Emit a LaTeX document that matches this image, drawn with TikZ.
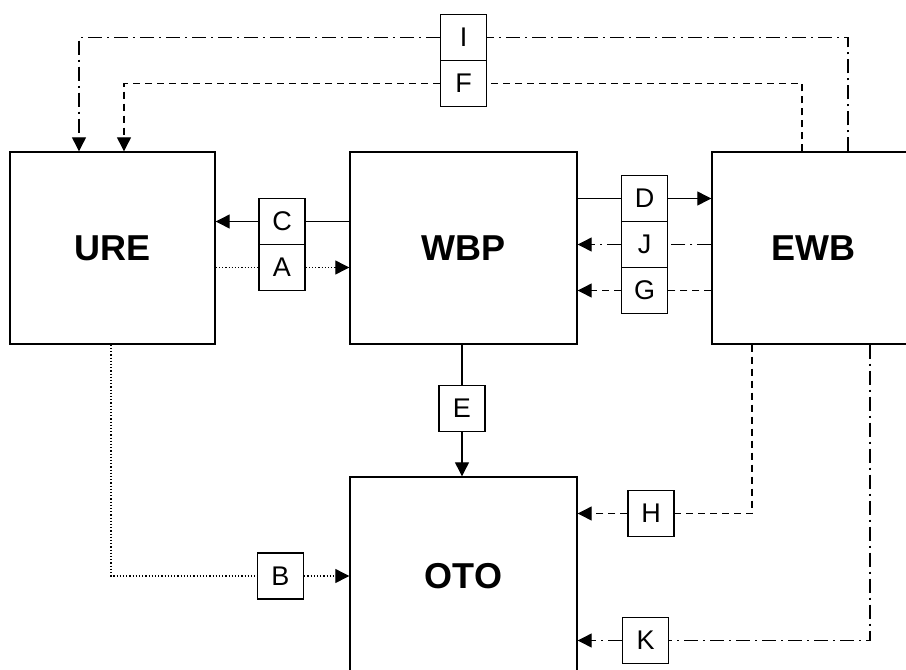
\documentclass[tikz,border=0pt]{standalone}
\usepackage{fontspec}
\setmainfont{Liberation Sans}
\usetikzlibrary{arrows.meta}
\begin{document}
\begin{tikzpicture}[x=1pt,y=-1pt,
  mainbox/.style={draw,line width=1.4pt,inner sep=0pt,font=\fontsize{36}{36}\selectfont\bfseries},
  lbl/.style={draw,line width=1.3pt,minimum width=46pt,minimum height=46pt,inner sep=0pt,font=\fontsize{27}{27}\selectfont},
  conn/.style={line width=1.2pt},
  arr/.style={conn,-{Triangle[length=14pt,width=14pt]}},
  dd/.style={dash pattern=on 14pt off 5pt on 2pt off 5pt},
  ds/.style={dash pattern=on 7pt off 5pt},
  dt/.style={dash pattern=on 1.2pt off 2pt}]
\clip (0,0) rectangle (906,670);
\fill[white] (0,0) rectangle (906,670);
% main boxes
\node[mainbox,minimum width=205pt,minimum height=192pt] (URE) at (112.5,248) {URE};
\node[mainbox,minimum width=227pt,minimum height=192pt] (WBP) at (463.5,248) {WBP};
\node[mainbox,minimum width=202pt,minimum height=192pt] (EWB) at (813,248) {EWB};
\node[mainbox,minimum width=227pt,minimum height=198pt] (OTO) at (463.5,576) {OTO};
% label boxes
\node[lbl] (C) at (282,221.5) {C};
\node[lbl] (A) at (282,267.5) {A};
\node[lbl] (D) at (644.5,198.5) {D};
\node[lbl] (J) at (644.5,244.5) {J};
\node[lbl] (G) at (644.5,290.5) {G};
\node[lbl] (I) at (463.5,37.5) {I};
\node[lbl] (F) at (463.5,83.5) {F};
\node[lbl] (E) at (462,408.5) {E};
\node[lbl] (H) at (651,513.5) {H};
\node[lbl] (K) at (645.5,640.5) {K};
\node[lbl] (B) at (280.5,576) {B};
% corner coordinates
\coordinate (i1) at (79,37.5);
\coordinate (i2) at (848,37.5);
\coordinate (f1) at (124,83.5);
\coordinate (f2) at (802,83.5);
\coordinate (hc) at (752,513.5);
\coordinate (kc) at (870,640.5);
\coordinate (bc) at (111,576);
% C
\draw[conn] (WBP.west |- C) -- (C.east);
\draw[arr] (C.west) -- (C.west -| URE.east);
% A
\draw[conn,dt] (A.west -| URE.east) -- (A.west);
\draw[arr,dt] (A.east) -- (A.east -| WBP.west);
% D
\draw[conn] (D.west -| WBP.east) -- (D.west);
\draw[arr] (D.east) -- (D.east -| EWB.west);
% J
\draw[conn,dd] (J.east -| EWB.west) -- (J.east);
\draw[arr,dd] (J.west) -- (J.west -| WBP.east);
% G
\draw[conn,ds] (G.east -| EWB.west) -- (G.east);
\draw[arr,ds] (G.west) -- (G.west -| WBP.east);
% E
\draw[conn] (E.north |- WBP.south) -- (E.north);
\draw[arr] (E.south) -- (E.south |- OTO.north);
% I
\draw[conn,dd] (i2 |- EWB.north) -- (i2) -- (I.east);
\draw[arr,dd] (I.west) -- (i1) -- (i1 |- URE.north);
% F
\draw[conn,ds] (f2 |- EWB.north) -- (f2) -- (F.east);
\draw[arr,ds] (F.west) -- (f1) -- (f1 |- URE.north);
% H
\draw[conn,ds] (hc |- EWB.south) -- (hc) -- (H.east);
\draw[arr,ds] (H.west) -- (H.west -| OTO.east);
% K
\draw[conn,dd] (kc |- EWB.south) -- (kc) -- (K.east);
\draw[arr,dd] (K.west) -- (K.west -| OTO.east);
% B
\draw[conn,dt] (bc |- URE.south) -- (bc) -- (B.west);
\draw[arr,dt] (B.east) -- (B.east -| OTO.west);
\end{tikzpicture}
\end{document}
